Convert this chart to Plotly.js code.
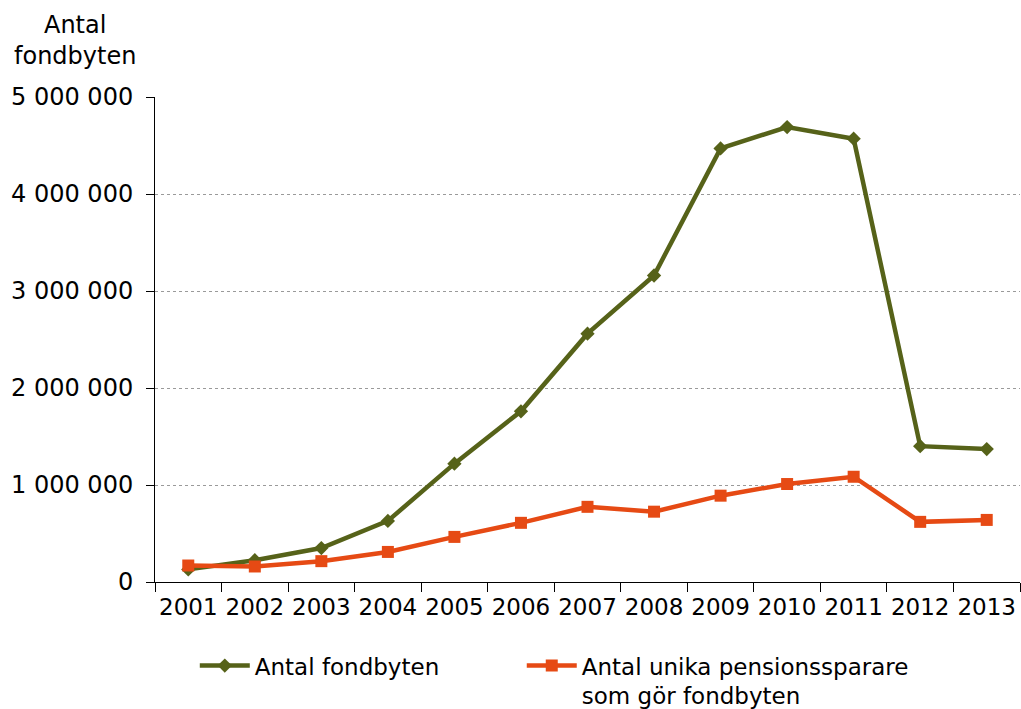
<!DOCTYPE html>
<html>
<head>
<meta charset="utf-8">
<script src="https://cdn.plot.ly/plotly-3.0.1.min.js"></script>
<style>
  html, body { margin: 0; padding: 0; background: #fff; }
  #chart { width: 1021px; height: 709px; }
</style>
</head>
<body>
<div id="chart"></div>
<script>
// Years on the x axis
const years = ['2001', '2002', '2003', '2004', '2005', '2006', '2007',
               '2008', '2009', '2010', '2011', '2012', '2013'];

// Antal fondbyten
const fundSwitches = [130000, 225000, 350000, 630000, 1220000, 1760000, 2560000,
                      3160000, 4470000, 4690000, 4570000, 1400000, 1370000];

// Antal unika pensionssparare som gör fondbyten
const uniqueSavers = [170000, 160000, 215000, 310000, 465000, 610000, 775000,
                      725000, 890000, 1010000, 1085000, 620000, 640000];

const yTicks = [0, 1000000, 2000000, 3000000, 4000000, 5000000];
const yTickText = ['0', '1 000 000', '2 000 000', '3 000 000', '4 000 000', '5 000 000'];

const font = 'Verdana, "DejaVu Sans", sans-serif';
const fs = 24;

const traceSwitches = {
    x: years,
    y: fundSwitches,
    mode: 'lines+markers',
    name: 'Antal fondbyten',
    legend: 'legend',
    line: { color: '#566219', width: 4.5 },
    marker: { symbol: 'diamond', size: 11, color: '#566219' }
};

const traceSavers = {
    x: years,
    y: uniqueSavers,
    mode: 'lines+markers',
    name: 'Antal unika pensionssparare<br>som gör fondbyten',
    legend: 'legend2',
    line: { color: '#E64A14', width: 4.5 },
    marker: { symbol: 'square', size: 12, color: '#E64A14' }
};

const legendBase = {
    orientation: 'h',
    xanchor: 'left', yanchor: 'top',
    font: { family: font, size: 23, color: '#000' },
    valign: 'top',
    itemwidth: 50,
    bgcolor: 'rgba(0,0,0,0)'
};

const layout = {
    width: 1021,
    height: 709,
    margin: { l: 155, r: 1, t: 97, b: 127, autoexpand: false },
    paper_bgcolor: '#fff',
    plot_bgcolor: '#fff',
    font: { family: font, size: fs, color: '#000' },
    showlegend: true,
    legend: Object.assign({}, legendBase, { x: 0.046, y: -0.128 }),
    legend2: Object.assign({}, legendBase, { x: 0.424, y: -0.128 }),
    xaxis: {
        type: 'category',
        range: [-0.5, 12.5],
        tickson: 'boundaries',
        tickangle: 0,
        ticks: 'outside',
        ticklen: 9,
        tickcolor: '#000',
        ticklabelstandoff: 4,
        showline: true,
        linecolor: '#000',
        linewidth: 1,
        showgrid: false,
        zeroline: false,
        automargin: false,
        tickfont: { family: font, size: 23 }
    },
    yaxis: {
        range: [0, 5000000],
        tickvals: yTicks,
        ticktext: yTickText,
        ticks: 'outside',
        ticklen: 8,
        tickcolor: '#000',
        ticklabelstandoff: 8,
        showline: true,
        linecolor: '#000',
        linewidth: 1,
        showgrid: true,
        gridcolor: '#9a9a9a',
        griddash: 'dot',
        gridwidth: 1,
        zeroline: false,
        automargin: false,
        tickfont: { family: font, size: fs }
    },
    annotations: [{
        text: 'Antal<br>fondbyten',
        xref: 'paper', yref: 'paper',
        x: -0.093, y: 1.182,
        xanchor: 'center', yanchor: 'top',
        showarrow: false,
        align: 'center',
        font: { family: font, size: fs, color: '#000' }
    }]
};

Plotly.newPlot('chart', [traceSwitches, traceSavers], layout, { displayModeBar: false });
</script>
</body>
</html>
